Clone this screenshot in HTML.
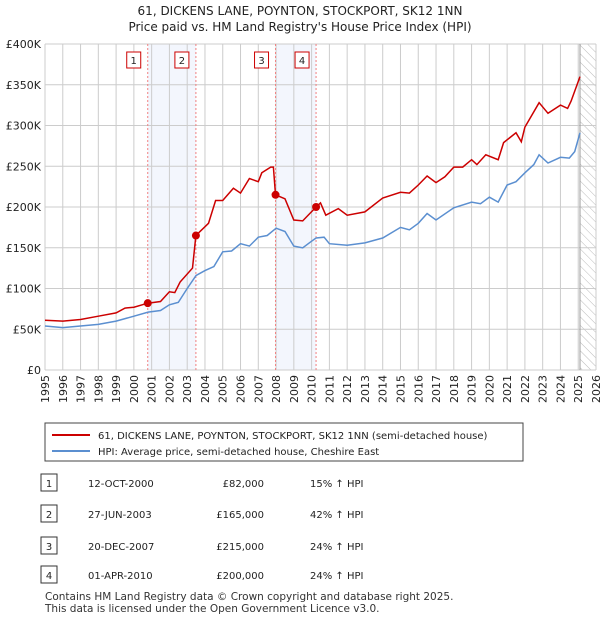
<!DOCTYPE html>
<html><head><meta charset="utf-8"><style>
body{margin:0;background:#fff;font-family:"Liberation Sans","DejaVu Sans",sans-serif;}
#wrap{position:relative;width:600px;height:620px;overflow:hidden}
</style></head><body>
<div id="wrap">
<svg id="chart" width="600" height="620" font-family="DejaVu Sans, Liberation Sans, sans-serif">
<text x="300" y="15" text-anchor="middle" font-size="12" fill="#222">61, DICKENS LANE, POYNTON, STOCKPORT, SK12 1NN</text>
<text x="300" y="31" text-anchor="middle" font-size="12" fill="#222">Price paid vs. HM Land Registry's House Price Index (HPI)</text>
<defs><pattern id="hatch" width="6" height="6" patternUnits="userSpaceOnUse" patternTransform="rotate(-45)"><line x1="0" y1="0" x2="0" y2="6" stroke="#bbb" stroke-width="1"/></pattern></defs>
<g id="plot"></g>
<rect x="45" y="423" width="478" height="38" fill="#fff" stroke="#444"/>
<line x1="52" y1="435" x2="90" y2="435" stroke="#cc0000" stroke-width="2"/>
<text x="98" y="439" font-size="10" fill="#222">61, DICKENS LANE, POYNTON, STOCKPORT, SK12 1NN (semi-detached house)</text>
<line x1="52" y1="451" x2="90" y2="451" stroke="#5b8fd0" stroke-width="2"/>
<text x="98" y="455" font-size="10" fill="#222">HPI: Average price, semi-detached house, Cheshire East</text>
<g id="table" font-size="10" fill="#222"></g>
<text x="45" y="600" font-size="10.5" fill="#333">Contains HM Land Registry data © Crown copyright and database right 2025.</text>
<text x="45" y="612" font-size="10.5" fill="#333">This data is licensed under the Open Government Licence v3.0.</text>
</svg></div>
<script>
const hpiYears=[1995,1996,1997,1998,1999,2000,2000.8,2001.5,2002,2002.5,2003,2003.5,2004,2004.5,2005,2005.5,2006,2006.5,2007,2007.5,2008,2008.5,2009,2009.5,2010,2010.25,2010.7,2011,2012,2013,2014,2015,2015.5,2016,2016.5,2017,2018,2019,2019.5,2020,2020.5,2021,2021.5,2022,2022.5,2022.8,2023.3,2024,2024.5,2024.8,2025.1];
const hpiValues=[54,52,54,56,60,66,71,73,80,83,100,116,122,127,145,146,155,152,163,165,174,170,152,150,158,162,163,155,153,156,162,175,172,180,192,184,199,206,204,212,206,227,231,242,252,264,254,261,260,268,291];
const priceYears=[1995,1996,1997,1998,1999,1999.5,2000,2000.78,2001.5,2002,2002.3,2002.6,2003.3,2003.49,2004.2,2004.6,2005,2005.6,2006,2006.5,2007,2007.2,2007.7,2007.85,2007.97,2008.5,2009,2009.5,2010.25,2010.5,2010.8,2011.5,2012,2013,2014,2015,2015.5,2016,2016.5,2017,2017.5,2018,2018.5,2019,2019.3,2019.8,2020.5,2020.8,2021.5,2021.8,2022,2022.8,2023.3,2024,2024.4,2024.6,2025.1];
const priceValues=[61,60,62,66,70,76,77,82,84,96,95,108,125,165,180,208,208,223,217,235,231,242,249,249,215,210,184,183,200,205,190,198,190,194,211,218,217,227,238,230,237,249,249,258,252,264,258,279,291,280,298,328,315,325,321,330,360];
const sales=[{n:"1",y:2000.78,v:82,d:"12-OCT-2000",p:"£82,000",h:"15% ↑ HPI"},{n:"2",y:2003.49,v:165,d:"27-JUN-2003",p:"£165,000",h:"42% ↑ HPI"},{n:"3",y:2007.97,v:215,d:"20-DEC-2007",p:"£215,000",h:"24% ↑ HPI"},{n:"4",y:2010.25,v:200,d:"01-APR-2010",p:"£200,000",h:"24% ↑ HPI"}];
const yTicks=[0,50,100,150,200,250,300,350,400];
const yTickLabels=["£0","£50K","£100K","£150K","£200K","£250K","£300K","£350K","£400K"];
const xTicks=[1995,1996,1997,1998,1999,2000,2001,2002,2003,2004,2005,2006,2007,2008,2009,2010,2011,2012,2013,2014,2015,2016,2017,2018,2019,2020,2021,2022,2023,2024,2025,2026];
const shades=[[2000.78,2003.49],[2007.97,2010.25]];
const dataEnd=2025.1;
const NS="http://www.w3.org/2000/svg";
const X0=45,X1=596,Y0=370,Y1=44;
const xs=y=>X0+(y-1995)/(2026-1995)*(X1-X0);
const ys=v=>Y0-v/400*(Y0-Y1);
const g=document.getElementById('plot');
function mk(t,a,p){const e=document.createElementNS(NS,t);for(const k in a)e.setAttribute(k,a[k]);(p||g).appendChild(e);return e;}
shades.forEach(s=>{const r=mk('rect',{x:xs(s[0]),y:Y1,width:xs(s[1])-xs(s[0]),height:Y0-Y1,fill:'#f3f6fd'});

});
const hr=mk('rect',{x:xs(dataEnd),y:Y1,width:X1-xs(dataEnd),height:Y0-Y1,fill:'url(#hatch)'});


xTicks.forEach(t=>{const l=mk('line',{x1:xs(t),x2:xs(t),y1:Y1,y2:Y0,stroke:'#ccc'});


const tx=mk('text',{x:0,y:0,'font-size':11,fill:'#222','text-anchor':'end',transform:`translate(${xs(t)+4},${Y0+5}) rotate(-90)`});tx.textContent=t;

});
yTicks.forEach((t,i)=>{const l=mk('line',{x1:X0,x2:X1,y1:ys(t),y2:ys(t),stroke:'#ccc'});


const tx=mk('text',{x:X0-4,y:ys(t)+4,'font-size':11,fill:'#222','text-anchor':'end'});tx.textContent=yTickLabels[i];

});
const vl=mk('line',{x1:xs(dataEnd),x2:xs(dataEnd),y1:Y1,y2:Y0,stroke:'#999'});


sales.forEach(s=>{const l=mk('line',{x1:xs(s.y),x2:xs(s.y),y1:Y1,y2:Y0,stroke:'#f08080','stroke-dasharray':'2,2'});


const b=mk('rect',{x:xs(s.y)-21,y:52,width:14,height:16,fill:'#fff',stroke:'#cc0000'});


const t=mk('text',{x:xs(s.y)-14,y:64,'font-size':10,'text-anchor':'middle',fill:'#222'});t.textContent=s.n;

});
function line(xa,va,c,n){const p=mk('path',{d:xa.map((y,i)=>(i?'L':'M')+xs(y).toFixed(1)+','+ys(va[i]).toFixed(1)).join(''),fill:'none',stroke:c,'stroke-width':1.5});

}
line(hpiYears,hpiValues,'#5b8fd0','hpi-line');
line(priceYears,priceValues,'#cc0000','price-line');
sales.forEach(s=>{const c=mk('circle',{cx:xs(s.y),cy:ys(s.v),r:4,fill:'#cc0000'});

});
const tb=document.getElementById('table');
const rowY=[483,514,546,575];
sales.forEach((s,i)=>{const y=rowY[i];
const b=mk('rect',{x:41,y:y-9,width:16,height:17,fill:'#fff',stroke:'#333'},tb);


[[49,s.n,'middle'],[88,s.d,'start'],[264,s.p,'end'],[310,s.h,'start']].forEach(a=>{const t=mk('text',{x:a[0],y:y+4,'text-anchor':a[2]},tb);t.textContent=a[1];

});});
</script>
</body></html>
